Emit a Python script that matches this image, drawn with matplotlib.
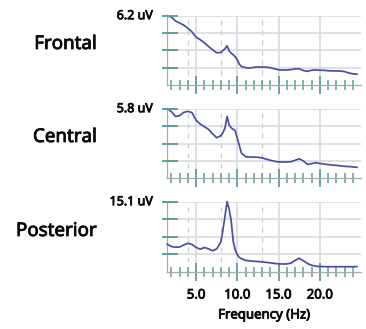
import matplotlib
matplotlib.use("Agg")
import matplotlib.pyplot as plt
import matplotlib.patheffects as pe
from matplotlib.transforms import blended_transform_factory, ScaledTranslation

plt.rcParams['font.family'] = ['Noto Sans', 'DejaVu Sans']

# EEG power spectra for three scalp regions
regions = ["Frontal", "Central", "Posterior"]
freqs = [1.5, 2.0, 2.5, 3.0, 3.5, 4.0, 4.5, 5.0, 5.5, 6.0, 6.5, 7.0, 7.5,
         8.0, 8.25, 8.5, 8.75, 9.0, 9.25, 9.5, 9.75, 10.0, 10.25, 10.5,
         11.0, 11.5, 12.0, 12.5, 13.0, 13.5, 14.0, 14.5, 15.0, 15.5, 16.0,
         16.5, 17.0, 17.5, 18.0, 18.5, 19.0, 19.5, 20.0, 20.5, 21.0, 21.5,
         22.0, 22.5, 23.0, 23.5, 24.0, 24.5]
frontal = [6.20, 6.08, 5.72, 5.55, 5.35, 5.08, 4.75, 4.27, 4.05, 3.78, 3.45, 3.15, 2.88,
           2.92, 3.08, 3.25, 3.50, 3.05, 2.85, 2.70, 2.52, 2.25, 1.85, 1.65,
           1.55, 1.52, 1.58, 1.62, 1.60, 1.60, 1.55, 1.45, 1.36, 1.34, 1.34,
           1.38, 1.44, 1.46, 1.30, 1.22, 1.32, 1.35, 1.32, 1.31, 1.28, 1.26,
           1.26, 1.25, 1.20, 1.08, 1.00, 0.97]
central = [5.80, 5.55, 5.15, 5.22, 5.50, 5.58, 5.47, 4.83, 4.52, 4.30, 4.08, 3.70, 3.38,
           3.55, 3.80, 4.20, 5.16, 4.45, 4.20, 4.08, 3.95, 3.30, 2.70, 2.10,
           1.80, 1.77, 1.77, 1.75, 1.70, 1.60, 1.50, 1.42, 1.36, 1.36, 1.36,
           1.38, 1.50, 1.63, 1.45, 1.16, 1.22, 1.30, 1.24, 1.19, 1.14, 1.10,
           1.08, 1.04, 1.00, 0.98, 0.95, 0.92]
posterior = [5.90, 5.40, 5.25, 5.30, 5.75, 6.10, 5.85, 5.20, 4.82, 5.20, 4.90, 4.50, 4.90,
             6.40, 9.00, 12.00, 15.10, 13.50, 11.00, 6.50, 4.60, 3.60, 3.05, 2.75,
             2.40, 2.30, 2.22, 2.15, 2.08, 1.98, 1.88, 1.75, 1.65, 1.62, 1.64,
             1.80, 2.40, 2.86, 2.35, 1.75, 1.35, 1.15, 1.08, 1.05, 1.04, 1.04,
             1.04, 1.04, 1.04, 1.04, 1.04, 1.04]
series = [frontal, central, posterior]
peak_labels = ["6.2 uV", "5.8 uV", "15.1 uV"]
band_edges = [4, 8, 13]
major_x = [5, 10, 15, 20]
major_x_labels = ["5.0", "10.0", "15.0", "20.0"]

LINE = "#4a4ea3"
TEAL = "#5a9f9b"
GRID = "#d6d6de"
SPINE = "#a9a9b0"
TEXT = "#0a0a0a"
HEAVY = [pe.withStroke(linewidth=0.6, foreground=TEXT)]

W, H = 366, 329
fig = plt.figure(figsize=(W / 100, H / 100), dpi=100)

left_px, right_px = 167.3, 361.0
width_px = right_px - left_px
panel_px = [(15.7, 85.0), (108.7, 178.3), (201.7, 271.5)]
label_y_px = [44, 137, 231]

for i, (name, vals, plabel) in enumerate(zip(regions, series, peak_labels)):
    top, bot = panel_px[i]
    ax = fig.add_axes([left_px / W, 1 - bot / H, width_px / W, (bot - top) / H])
    ymax = max(vals)
    ax.set_xlim(1.5, 25)
    ax.set_ylim(0, ymax)

    # background grid and frequency-band boundaries
    for f in major_x:
        ax.axvline(f, color=GRID, lw=1.1, zorder=0)
    for f in band_edges:
        ax.axvline(f, color="#cbcbcb", lw=0.9, ls=(0, (4, 4)), zorder=0)
    yt = [ymax * k / 4 for k in (1, 2, 3, 4)]
    for y in yt:
        ax.axhline(y, color=GRID, lw=1.1, zorder=0)

    ax.plot(freqs, vals, color=LINE, lw=1.25, solid_joinstyle="round", zorder=3, clip_on=False)

    for s in ("top", "right"):
        ax.spines[s].set_visible(False)
    for s in ("left", "bottom"):
        ax.spines[s].set_color(SPINE)
        ax.spines[s].set_linewidth(0.9)

    # y ticks: short teal dashes crossing the axis
    ax.set_yticks([])
    tr = blended_transform_factory(ax.transAxes, ax.transData)
    for y in yt:
        ax.plot([-4.5 / width_px, 9.5 / width_px], [y, y], color=TEAL, lw=1.4,
                transform=tr, clip_on=False, zorder=4)

    ax.text(0, ymax, plabel,
            transform=tr + ScaledTranslation(-14.6 / 100, 0, fig.dpi_scale_trans),
            ha="right", va="center", fontsize=9, color=TEXT, path_effects=HEAVY)

    # x ticks
    ax.set_xticks(major_x)
    ax.set_xticks([f for f in range(2, 25) if f % 5], minor=True)
    ax.tick_params(axis="x", which="major", direction="inout", length=12.5, width=1.3,
                   color=TEAL, pad=6, labelsize=9.5, labelcolor=TEXT)
    ax.tick_params(axis="x", which="minor", direction="inout", length=6.7, width=1.1, color=TEAL)
    if i == len(regions) - 1:
        ax.set_xticklabels(major_x_labels)
        for lab in ax.get_xticklabels():
            lab.set_path_effects(HEAVY)
        ax.set_xlabel("Frequency (Hz)", fontsize=9.5, color=TEXT, labelpad=5,
                      path_effects=HEAVY)
    else:
        ax.set_xticklabels([])

    fig.text(97 / W, 1 - label_y_px[i] / H, name, ha="right", va="center",
             fontsize=13.5, color=TEXT, path_effects=HEAVY)

fig.savefig("out.png", dpi=100)
